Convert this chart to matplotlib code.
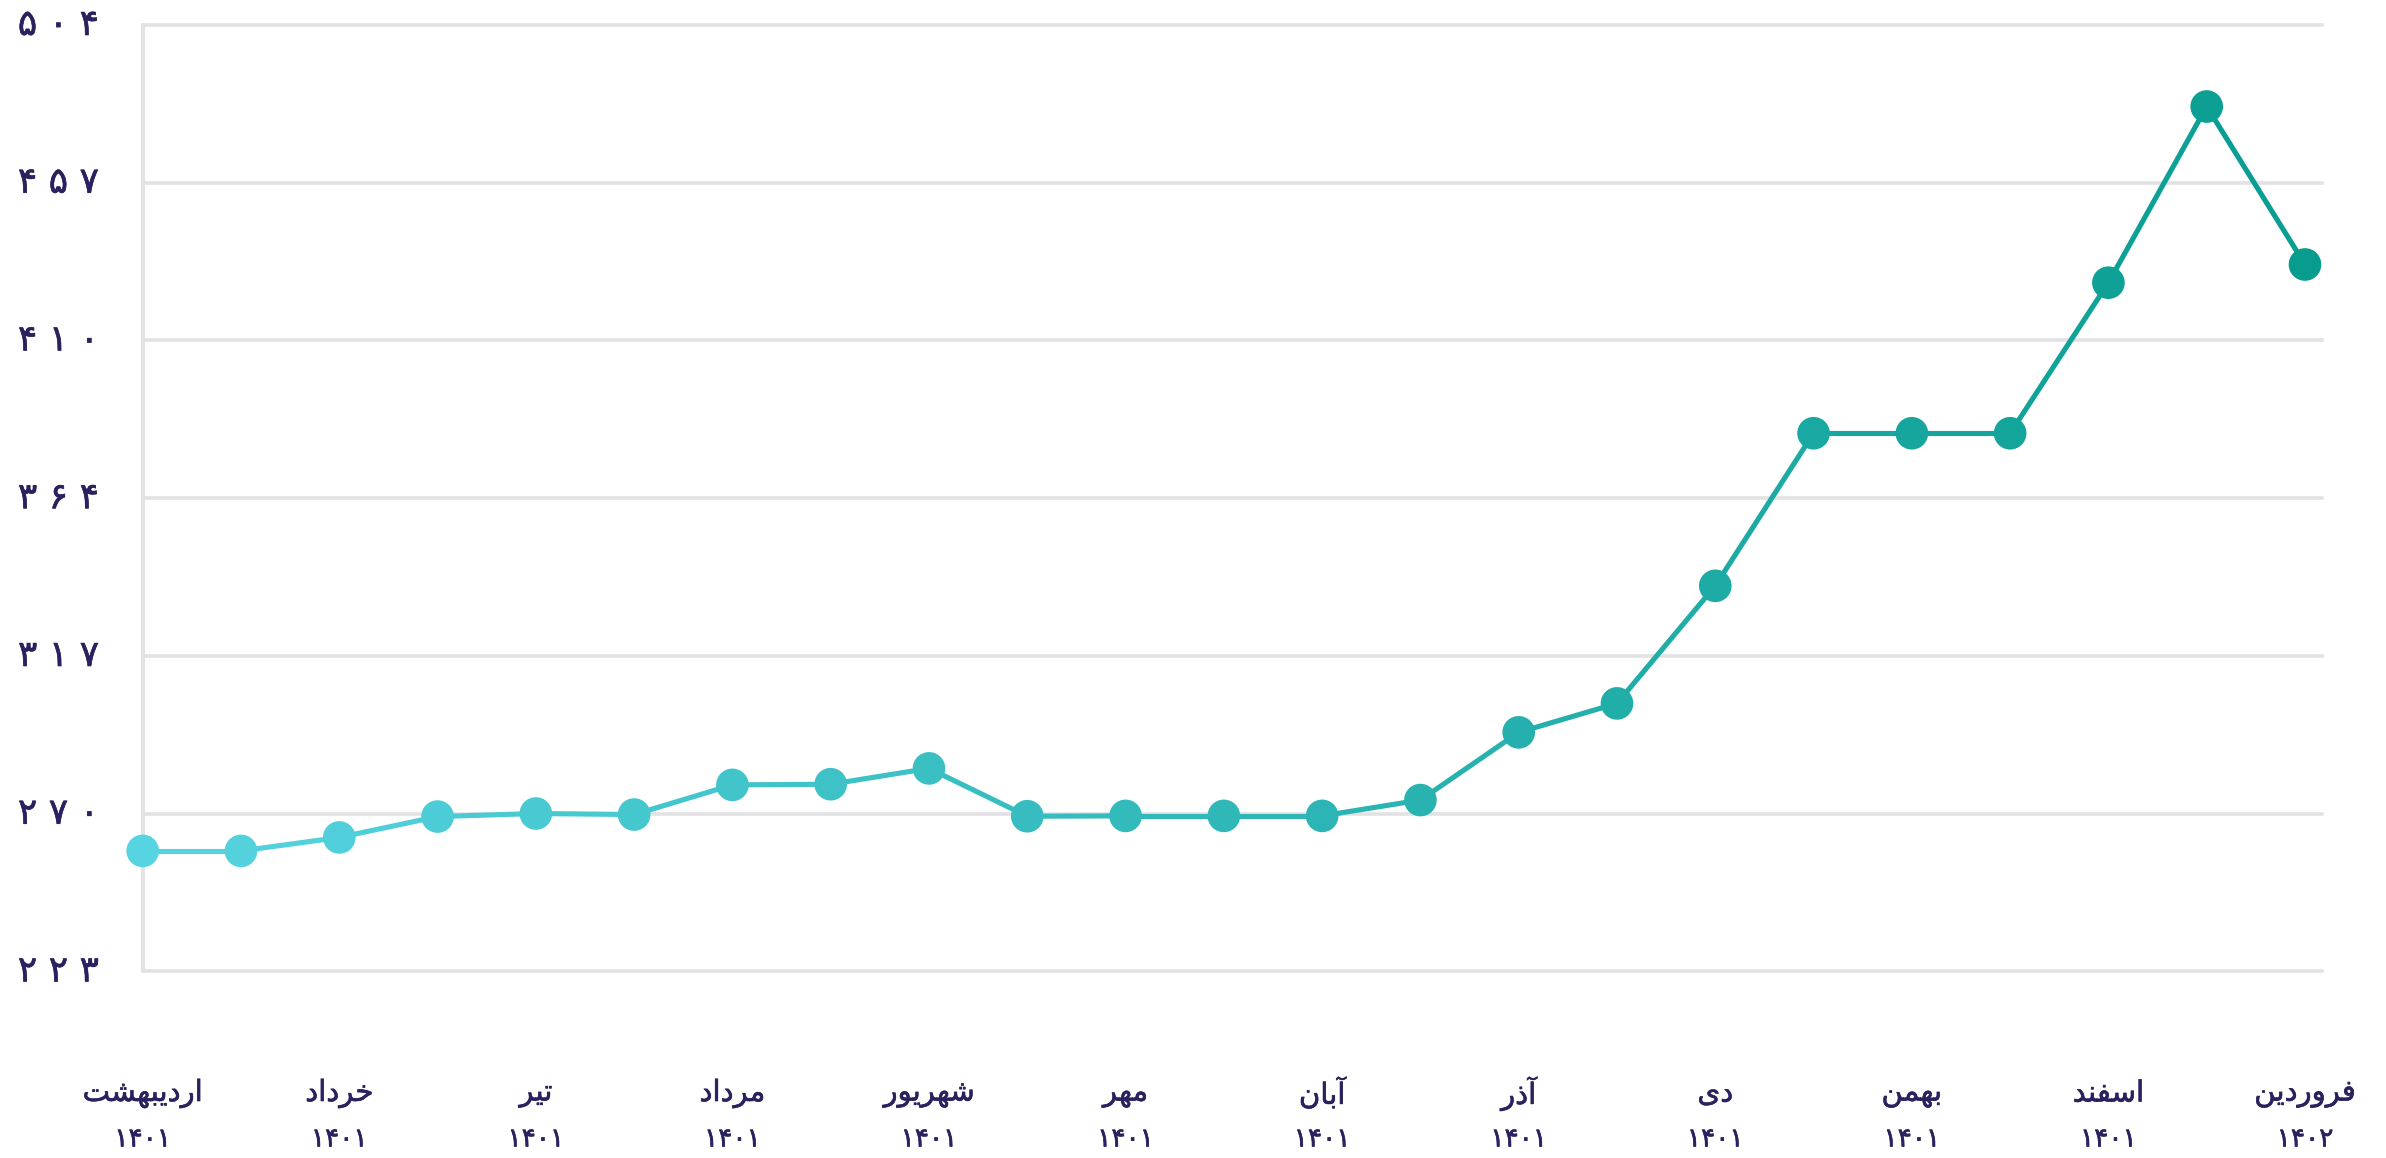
import matplotlib
matplotlib.use('Agg')
import matplotlib.pyplot as plt
import matplotlib.patheffects as pe
from matplotlib.collections import LineCollection
from matplotlib.colors import to_rgb
from matplotlib.transforms import blended_transform_factory
import numpy as np

# ---------------- data ----------------
months = ['اردیبهشت', 'خرداد', 'تیر', 'مرداد', 'شهریور', 'مهر',
          'آبان', 'آذر', 'دی', 'بهمن', 'اسفند', 'فروردین']
years = ['۱۴۰۱'] * 11 + ['۱۴۰۲']
values = [258.8, 258.8, 262.8, 269.0, 269.9, 269.6, 278.4, 278.6, 283.3,
          269.1, 269.2, 269.2, 269.2, 273.9, 294.0, 302.6, 337.5,
          382.8, 382.8, 382.8, 427.5, 479.8, 432.9]
y_tick_labels = ['۲ ۲ ۳', '۲ ۷ ۰', '۳ ۱ ۷', '۳ ۶ ۴', '۴ ۱ ۰', '۴ ۵ ۷', '۵ ۰ ۴']
y_min, y_max = 223, 504

# ---------------- Persian shaping (presentation forms, visual order) ----------------
FORMS = {
    'ا': ('\uFE8D', '\uFE8E', None, None),
    'آ': ('\uFE81', '\uFE82', None, None),
    'ب': ('\uFE8F', '\uFE90', '\uFE91', '\uFE92'),
    'ت': ('\uFE95', '\uFE96', '\uFE97', '\uFE98'),
    'خ': ('\uFEA5', '\uFEA6', '\uFEA7', '\uFEA8'),
    'د': ('\uFEA9', '\uFEAA', None, None),
    'ذ': ('\uFEAB', '\uFEAC', None, None),
    'ر': ('\uFEAD', '\uFEAE', None, None),
    'س': ('\uFEB1', '\uFEB2', '\uFEB3', '\uFEB4'),
    'ش': ('\uFEB5', '\uFEB6', '\uFEB7', '\uFEB8'),
    'ف': ('\uFED1', '\uFED2', '\uFED3', '\uFED4'),
    'م': ('\uFEE1', '\uFEE2', '\uFEE3', '\uFEE4'),
    'ن': ('\uFEE5', '\uFEE6', '\uFEE7', '\uFEE8'),
    'ه': ('\uFEE9', '\uFEEA', '\uFEEB', '\uFEEC'),
    'و': ('\uFEED', '\uFEEE', None, None),
    'ی': ('\uFBFC', '\uFBFD', '\uFBFE', '\uFBFF'),
}


def shape(word):
    out = []
    n = len(word)
    for i, ch in enumerate(word):
        f = FORMS.get(ch)
        if f is None:
            out.append(ch)
            continue
        prev = word[i - 1] if i > 0 else None
        nxt = word[i + 1] if i < n - 1 else None
        jp = prev in FORMS and FORMS[prev][2] is not None
        jn = f[2] is not None and nxt in FORMS
        if jp and jn:
            g = f[3]
        elif jp:
            g = f[1]
        elif jn:
            g = f[2]
        else:
            g = f[0]
        out.append(g)
    return ''.join(reversed(out))


# ---------------- style ----------------
TEXT = '#2a215e'
GRID = '#e2e2e4'
C_START = np.array(to_rgb('#57d4e1'))
C_END = np.array(to_rgb('#089c8f'))
FONT = ['DejaVu Sans']
THICK = [pe.withStroke(linewidth=0.45, foreground=TEXT)]

W, H = 2386, 1158
fig = plt.figure(figsize=(W / 100, H / 100), dpi=100)
ax = fig.add_axes([142.7 / W, 1 - 971.5 / H, (2321.7 - 142.7) / W, (971.5 - 25) / H])

x = np.arange(len(values))
y = np.array(values)
n = len(values)
t = x / (n - 1)
pt_colors = [tuple(C_START + (C_END - C_START) * ti) for ti in t]

ax.set_xlim(0, n - 1 + 0.17)
ax.set_ylim(y_min, y_max)

# grid lines
yticks = np.linspace(y_min, y_max, len(y_tick_labels))
for yt in yticks:
    ax.axhline(yt, color=GRID, lw=2.6, zorder=0, clip_on=False)

for s in ['top', 'right', 'bottom']:
    ax.spines[s].set_visible(False)
ax.spines['left'].set_color(GRID)
ax.spines['left'].set_linewidth(2.8)
ax.set_xticks([])
ax.set_yticks([])

# line with gradient
pts = np.column_stack([x, y])
segs = np.stack([pts[:-1], pts[1:]], axis=1)
seg_colors = [tuple(C_START + (C_END - C_START) * ((t[i] + t[i + 1]) / 2)) for i in range(n - 1)]
lc = LineCollection(segs, colors=seg_colors, linewidths=3.7, zorder=3, capstyle='round')
ax.add_collection(lc)
ax.scatter(x, y, s=23.5 ** 2, c=pt_colors, zorder=4, linewidths=0, clip_on=False)

# y labels
trans = blended_transform_factory(fig.transFigure, ax.transData)
for yt, lab in zip(yticks, y_tick_labels):
    ax.text(58.5 / W, yt, lab, transform=trans, ha='center', va='center',
            fontsize=26, color=TEXT, family=FONT, path_effects=THICK)

# x labels (month + year)
for i, (m, yr) in enumerate(zip(months, years)):
    xi = x[2 * i]
    ax.annotate(shape(m), xy=(xi, 0), xycoords=('data', 'axes fraction'),
                xytext=(0, -122 * 0.72), textcoords='offset points',
                ha='center', va='center', fontsize=21,
                color=TEXT, family=FONT, annotation_clip=False, path_effects=THICK)
    ax.annotate(yr, xy=(xi, 0), xycoords=('data', 'axes fraction'),
                xytext=(0, -168 * 0.72), textcoords='offset points',
                ha='center', va='center', fontsize=19,
                color=TEXT, family=FONT, annotation_clip=False, path_effects=THICK)

fig.savefig('out.png', dpi=100, facecolor='white')
